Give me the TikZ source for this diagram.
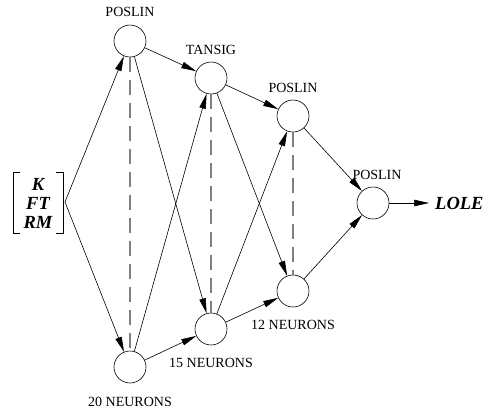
\documentclass[tikz,border=0pt]{standalone}
\usepackage{fontspec}
\setmainfont{Liberation Serif}
\newfontfamily\tnr{Liberation Serif}
\usetikzlibrary{arrows.meta}
\begin{document}
\begin{tikzpicture}[x=1pt,y=-1pt,
  neuron/.style={circle,draw,line width=0.6pt,minimum size=32pt,inner sep=0pt},
  lbl/.style={font=\tnr\fontsize{14}{16}\selectfont,inner sep=0pt},
  big/.style={font=\tnr\fontsize{18.5}{20}\selectfont\bfseries\itshape,inner sep=0pt},
  conn/.style={line width=0.6pt,-{Triangle[length=15pt,width=6.5pt]}},
  dashline/.style={draw=black!50,line width=1.2pt,dash pattern=on 15pt off 8pt},
  brk/.style={line width=0.8pt}]
\useasboundingbox (0,0) rectangle (484,413);
% neurons
\node[neuron] (a1) at (130,41) {};
\node[neuron] (a2) at (130,367) {};
\node[neuron] (b1) at (211,78) {};
\node[neuron] (b2) at (211,329) {};
\node[neuron] (c1) at (293,116) {};
\node[neuron] (c2) at (293,291) {};
\node[neuron] (o) at (373,203) {};
% labels
\node[lbl] (la1) at (130,12) {POSLIN};
\node[lbl] (lb1) at (211,50) {TANSIG};
\node[lbl] (lc1) at (293,88) {POSLIN};
\node[lbl] (lo) at (377,175) {POSLIN};
\node[lbl] (la2) at (130,402) {20 NEURONS};
\node[lbl] (lb2) at (211,363) {15 NEURONS};
\node[lbl] (lc2) at (293,325) {12 NEURONS};
% input vector
\draw[brk] (20,172) -- (13,172) -- (13,233) -- (20,233);
\draw[brk] (56,172) -- (63,172) -- (63,233) -- (56,233);
\node[big] (k) at (38,184) {K};
\node[big] (ft) at (38,203) {FT};
\node[big] (rm) at (38,222) {RM};
\coordinate (in) at (65,202);
% output
\node[big,anchor=west] (lole) at (435,203) {LOLE};
% dashed
\draw[dashline] (a1) -- (a2);
\draw[dashline] (b1) -- (b2);
\draw[dashline] (c1) -- (c2);
% connections
\draw[conn] (in) -- (a1);
\draw[conn] (in) -- (a2);
\draw[conn] (a1) -- (b1);
\draw[conn] (a1) -- (b2);
\draw[conn] (a2) -- (b1);
\draw[conn] (a2) -- (b2);
\draw[conn] (b1) -- (c1);
\draw[conn] (b1) -- (c2);
\draw[conn] (b2) -- (c1);
\draw[conn] (b2) -- (c2);
\draw[conn] (c1) -- (o);
\draw[conn] (c2) -- (o);
\draw[conn,shorten >=6pt] (o) -- (lole.west);
\end{tikzpicture}
\end{document}
